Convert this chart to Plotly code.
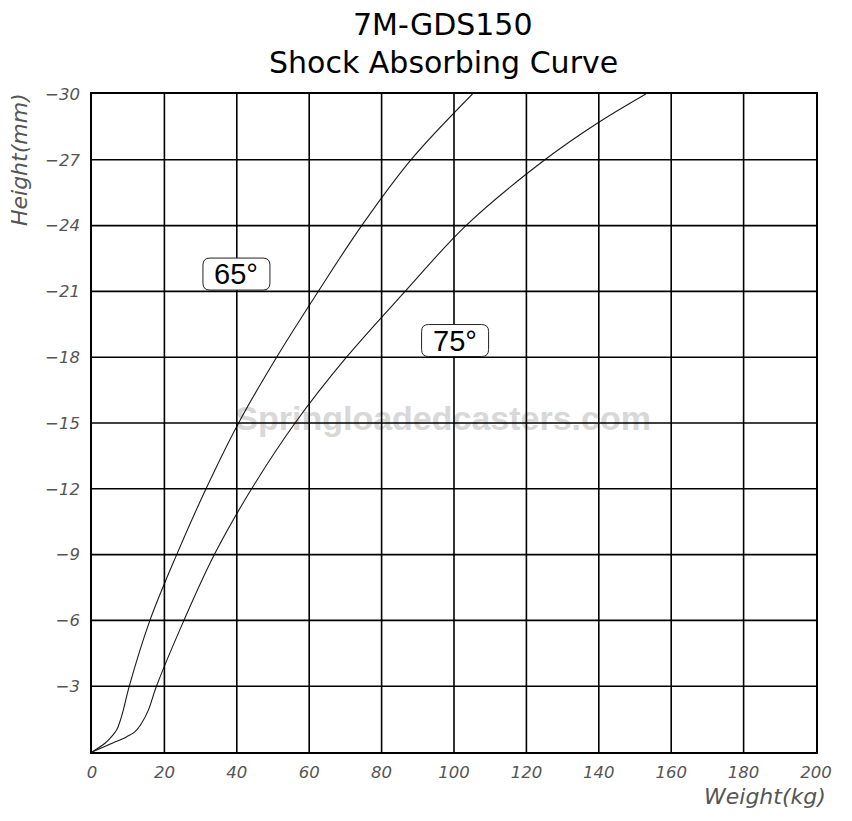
import plotly.graph_objects as go

# ---- data ----
weight_65 = [0, 3.6, 5.4, 6.8, 7.7, 8.65, 10.3, 16.0, 23.4, 31.5, 40.5, 51.0, 62.5, 74.5, 88.1, 105.1]
height_65 = [0, -0.4, -0.7, -1.0, -1.38, -1.91, -3.0, -6.0, -9.0, -12.0, -15.0, -18.0, -21.0, -24.0, -27.0, -30.0]

weight_75 = [0, 5.9, 9.6, 11.9, 13.7, 15.6, 17.7, 25.4, 33.8, 44.1, 56.1, 70.3, 86.5, 103.3, 125.1, 140.0, 153.0]
height_75 = [0, -0.42, -0.7, -0.93, -1.31, -1.92, -2.95, -6.0, -9.0, -12.0, -15.0, -18.0, -21.0, -24.0, -27.0, -28.71, -30.0]

x_ticks = [0, 20, 40, 60, 80, 100, 120, 140, 160, 180, 200]
y_ticks = [-30, -27, -24, -21, -18, -15, -12, -9, -6, -3]
y_ticktext = ["\u2212" + str(abs(v)) for v in y_ticks]

curve_labels = ["65\u00b0", "75\u00b0"]
label_x = [39.9, 100.3]
label_y = [-21.79, -18.76]

title_lines = ["7M-GDS150", "Shock Absorbing Curve"]
watermark = "Springloadedcasters.com"

tick_font = dict(family="DejaVu Sans", size=16.5, color="#555555", style="italic", weight=200)


def rounded_box(hw, hh, r):
    return (f"M {-hw + r},{-hh} L {hw - r},{-hh} Q {hw},{-hh} {hw},{-hh + r} "
            f"L {hw},{hh - r} Q {hw},{hh} {hw - r},{hh} L {-hw + r},{hh} "
            f"Q {-hw},{hh} {-hw},{hh - r} L {-hw},{-hh + r} Q {-hw},{-hh} {-hw + r},{-hh} Z")


fig = go.Figure()

# watermark (under the grid)
fig.add_trace(go.Scatter(x=[97], y=[-15.05], mode="text", text=[watermark],
                         textfont=dict(family="Liberation Sans", size=34, color="#d8d8d8", weight="bold"),
                         hoverinfo="skip", showlegend=False))

for wx, hy in [(weight_65, height_65), (weight_75, height_75)]:
    fig.add_trace(go.Scatter(x=wx, y=hy, mode="lines",
                             line=dict(color="#1a1a1a", width=1.1, shape="spline", smoothing=1.0),
                             hoverinfo="skip", showlegend=False))

# grid lines drawn above the watermark
for v in x_ticks[1:-1]:
    fig.add_shape(type="line", xref="x", yref="paper", x0=v, x1=v, y0=0, y1=1,
                  line=dict(color="black", width=1.6), layer="above")
for v in y_ticks[1:]:
    fig.add_shape(type="line", xref="paper", yref="y", x0=0, x1=1, y0=v, y1=v,
                  line=dict(color="black", width=1.6), layer="above")

for txt, lx, ly in zip(curve_labels, label_x, label_y):
    fig.add_shape(type="path", xref="x", yref="y", xsizemode="pixel", ysizemode="pixel",
                  xanchor=lx, yanchor=ly, path=rounded_box(33.5, 16, 7),
                  line=dict(color="#222222", width=1), fillcolor="white", layer="above")
    fig.add_annotation(x=lx, y=ly, xref="x", yref="y", text=txt, showarrow=False,
                       font=dict(family="Liberation Sans", size=29, color="black"))

# titles
fig.add_annotation(x=0.485, y=1.1049, xref="paper", yref="paper", text=title_lines[0], showarrow=False,
                   font=dict(family="DejaVu Sans", size=30, color="black"), xanchor="center", yanchor="middle")
fig.add_annotation(x=0.485, y=1.0476, xref="paper", yref="paper", text=title_lines[1], showarrow=False,
                   font=dict(family="DejaVu Sans", size=30, color="black"), xanchor="center", yanchor="middle")

# axis titles
fig.add_annotation(x=1.017, y=-0.0669, xref="paper", yref="paper", text="Weight(kg)", showarrow=False,
                   font=dict(family="DejaVu Sans", size=22, color="#555555", style="italic", weight=200),
                   xanchor="right", yanchor="middle")
fig.add_annotation(x=-0.0994, y=0.8997, xref="paper", yref="paper", text="Height(mm)", showarrow=False,
                   textangle=-90,
                   font=dict(family="DejaVu Sans", size=22, color="#555555", style="italic", weight=200),
                   xanchor="center", yanchor="middle")

fig.update_layout(
    width=844, height=813,
    margin=dict(l=84, r=36, t=86, b=69),
    plot_bgcolor="white", paper_bgcolor="white",
    showlegend=False,
    xaxis=dict(range=[0, 200], tickvals=x_ticks, ticks="", showgrid=False, zeroline=False,
               showline=True, mirror=True, linecolor="black", linewidth=1.6,
               tickfont=tick_font, ticklabelstandoff=4),
    yaxis=dict(range=[0, -30], tickvals=y_ticks, ticktext=y_ticktext, ticks="", showgrid=False,
               zeroline=False, showline=True, mirror=True, linecolor="black", linewidth=1.6,
               tickfont=tick_font, ticklabelstandoff=7),
)

fig.write_html("out.html")
